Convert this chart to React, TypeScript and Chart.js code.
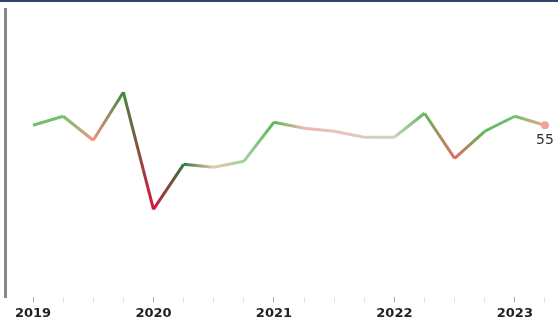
import React, { useEffect, useRef } from "react";
import { Chart, registerables } from "chart.js";

Chart.register(...registerables);

const quarters = [
  "2019 Q1", "2019 Q2", "2019 Q3", "2019 Q4",
  "2020 Q1", "2020 Q2", "2020 Q3", "2020 Q4",
  "2021 Q1", "2021 Q2", "2021 Q3", "2021 Q4",
  "2022 Q1", "2022 Q2", "2022 Q3", "2022 Q4",
  "2023 Q1", "2023 Q2",
];
const values = [55, 58, 50, 66, 27, 42, 41, 43, 56, 54, 53, 51, 51, 59, 44, 53, 58, 55];
const yearLabels = ["2019", "2020", "2021", "2022", "2023"];
const pointColors = [
  "#6cbf66", "#74c26e", "#f0907e", "#3f8a40", "#d3173f", "#2f7b3c",
  "#e9c5b2", "#a3d29c", "#5eb85a", "#ebb8ae", "#e6c2b8", "#d8cfc0",
  "#c9d2bf", "#63b55f", "#e36a62", "#5db85a", "#70c06b", "#f2a494",
];

export default function App() {
  const canvasRef = useRef<HTMLCanvasElement | null>(null);

  useEffect(() => {
    document.body.style.margin = "0";
    const canvas = canvasRef.current;
    if (!canvas) return;
    const last = values.length - 1;

    const labelPlugin = {
      id: "lastLabel",
      afterDatasetsDraw(chart: any) {
        const meta = chart.getDatasetMeta(0);
        const pt = meta.data[last];
        if (!pt) return;
        const c = chart.ctx;
        c.save();
        c.font = "14px 'DejaVu Sans'";
        c.fillStyle = "#333";
        c.textAlign = "center";
        c.textBaseline = "top";
        c.fillText(String(values[last]), pt.x, pt.y + 8);
        c.restore();
      },
    };

    let chartRef: any = null;
    chartRef = new Chart(canvas, {
      type: "line",
      data: {
        labels: quarters,
        datasets: [
          {
            label: "Index",
            data: values.map((v, i) => ({ x: i, y: v })),
            borderWidth: 3,
            borderColor: "#6cbf66",
            tension: 0,
            fill: false,
            pointRadius: (ctx: any) => (ctx.dataIndex === last ? 4 : 0),
            pointHoverRadius: 0,
            pointBackgroundColor: pointColors[last],
            pointBorderWidth: 0,
            segment: {
              borderColor: (ctx: any) => {
                const ch = ctx.chart || chartRef;
                if (!ch) return pointColors[ctx.p1DataIndex];
                const g = ch.ctx.createLinearGradient(ctx.p0.x, ctx.p0.y, ctx.p1.x, ctx.p1.y);
                g.addColorStop(0, pointColors[ctx.p0DataIndex]);
                g.addColorStop(1, pointColors[ctx.p1DataIndex]);
                return g;
              },
            },
          } as any,
        ],
      },
      options: {
        animation: false,
        responsive: false,
        maintainAspectRatio: false,
        layout: { padding: { left: 5, top: 7, right: 0, bottom: 0 } },
        plugins: { legend: { display: false }, tooltip: { enabled: false } },
        scales: {
          x: {
            type: "linear",
            min: -0.93,
            max: 17.3,
            afterBuildTicks: (scale: any) => {
              scale.ticks = quarters.map((_, i) => ({ value: i }));
            },
            grid: {
              display: true,
              drawOnChartArea: false,
              drawTicks: true,
              tickLength: 5,
              tickColor: (ctx: any) =>
                ctx.tick && ctx.tick.value % 4 === 0 ? "#aaaaaa" : "#e2e2e2",
            },
            border: { display: false },
            ticks: {
              autoSkip: false,
              maxRotation: 0,
              padding: 3,
              color: "#222",
              font: { family: "'DejaVu Sans'", size: 13, weight: "bold" },
              callback: (v: any) => {
                const i = Number(v);
                return i % 4 === 0 ? yearLabels[i / 4] : "";
              },
            },
          },
          y: {
            min: -2.3,
            max: 93.7,
            afterFit: (scale: any) => {
              scale.width = 0;
            },
            grid: { display: false },
            ticks: { display: false },
            border: { display: true, color: "#888888", width: 3 },
          },
        },
      },
      plugins: [labelPlugin],
    } as any);

    return () => {
      chartRef && chartRef.destroy();
    };
  }, []);

  return (
    <div
      style={{
        position: "absolute",
        left: 0,
        top: 0,
        width: 558,
        height: 324,
        background: "#fff",
        borderTop: "2px solid #32456c",
        boxSizing: "border-box",
      }}
    >
      <canvas ref={canvasRef} width={558} height={322} style={{ display: "block" }} />
    </div>
  );
}
